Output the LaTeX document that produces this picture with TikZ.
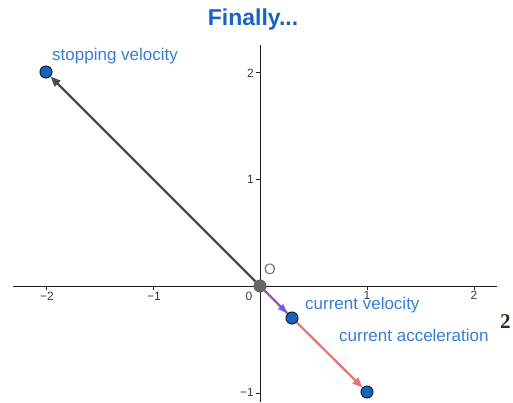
\documentclass[tikz,border=0pt]{standalone}
\usepackage{fontspec}
\setmainfont{Liberation Sans}
\newfontfamily\serifnum{Liberation Serif}
\usetikzlibrary{arrows.meta,backgrounds}
\definecolor{titleblue}{RGB}{25,100,195}
\definecolor{labelblue}{RGB}{55,125,215}
\definecolor{ptblue}{RGB}{21,101,192}
\definecolor{ptedge}{RGB}{20,30,50}
\definecolor{vecgray}{RGB}{75,75,75}
\definecolor{accred}{RGB}{228,115,115}
\definecolor{velblue}{RGB}{70,70,230}
\definecolor{axisgray}{RGB}{30,30,30}
\definecolor{ticklab}{RGB}{60,60,60}
\definecolor{strayc}{RGB}{60,40,30}
\begin{document}
\begin{tikzpicture}[x=1pt,y=-1pt,
  pt/.style={circle,draw=ptedge,line width=1pt,fill=ptblue,minimum size=12pt,inner sep=0pt},
  opt/.style={circle,draw=ptedge!70,line width=1pt,fill=black!60,minimum size=12pt,inner sep=0pt},
  lbl/.style={text=labelblue,font=\fontsize{17}{20}\selectfont,inner sep=0pt},
  tl/.style={text=ticklab,font=\fontsize{12}{14}\selectfont,inner sep=0pt},
  axis/.style={draw=axisgray,line width=0.9pt},
  tick/.style={draw=axisgray,line width=0.8pt},
  vec/.style={line width=2.2pt,-{Triangle[length=10pt,width=8pt]}}]
\useasboundingbox (0,0) rectangle (513,402);
% axes
\coordinate (xl) at (13,286);
\coordinate (xr) at (497,286);
\coordinate (yt) at (260,45);
\coordinate (yb) at (260,402);
\draw[axis] (xl) -- (xr);
\draw[axis] (yt) -- (yb);
% ticks
\foreach \i in {-2,-1,1,2}{
  \draw[tick] (260+107*\i,286) -- (260+107*\i,290);
}
\foreach \i in {2,1,-1}{
  \draw[tick] (256,286-107*\i) -- (260,286-107*\i);
}
\node[tl,anchor=north] (tx1) at (47,292) {−2};
\node[tl,anchor=north] (tx2) at (154,292) {−1};
\node[tl,anchor=north] (tx0) at (249,292) {0};
\node[tl,anchor=north] (tx3) at (367,291) {1};
\node[tl,anchor=north] (tx4) at (474,291) {2};
\node[tl,anchor=east] (ty2) at (254,73) {2};
\node[tl,anchor=east] (ty1) at (254,179) {1};
\node[tl,anchor=east] (ty3) at (254,392) {−1};
% title
\node[text=titleblue,font=\fontsize{23}{27}\bfseries\selectfont] (title) at (253,20) {Finally...};
% points
\node[opt] (O) at (260,286) {};
\node[pt] (S) at (46,72) {};
\node[pt] (V) at (292,318) {};
\node[pt] (A) at (367,392) {};
% vectors
\begin{scope}[on background layer]
\draw[vec,vecgray] (O) -- (S);
\draw[vec,accred] (O) -- (A);
\draw[vec,velblue,opacity=0.55] (O) -- (V);
\end{scope}
% labels
\node[lbl,anchor=base west] (lS) at (52,60) {stopping velocity};
\node[text=black!55,font=\fontsize{15}{18}\selectfont,inner sep=0pt,anchor=base west] (lO) at (264,274) {O};
\node[lbl,anchor=base west] (lV) at (305,309) {current velocity};
\node[lbl,anchor=base west] (lA) at (339,341) {current acceleration};
\node[text=strayc,font=\serifnum\fontsize{21}{24}\bfseries\selectfont,inner sep=0pt,anchor=base west] (st) at (500,328) {2};
\end{tikzpicture}
\end{document}
